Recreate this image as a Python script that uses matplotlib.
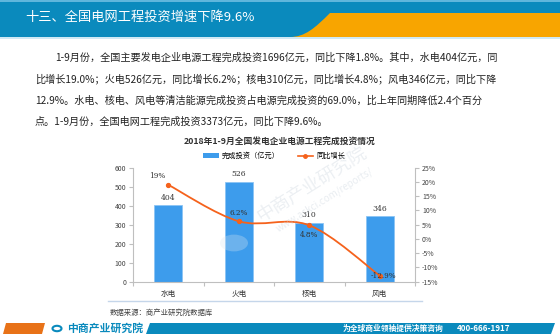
import numpy as np
import matplotlib.pyplot as plt
from matplotlib.patches import Polygon, Rectangle, Circle
from matplotlib.path import Path
from matplotlib.patches import PathPatch
from matplotlib.lines import Line2D

plt.rcParams['font.family'] = ['Noto Sans CJK SC', 'DejaVu Sans']

categorias = ['水电', '火电', '核电', '风电']
inversion = [404, 526, 310, 346]
crecimiento = [19.0, 6.2, 4.8, -12.9]
etiquetas_crec = ['19%', '6.2%', '4.8%', '-12.9%']

titulo = '十三、全国电网工程投资增速下降9.6%'
parrafo = [
    '1-9月份，全国主要发电企业电源工程完成投资1696亿元，同比下降1.8%。其中，水电404亿元，同',
    '比增长19.0%；火电526亿元，同比增长6.2%；核电310亿元，同比增长4.8%；风电346亿元，同比下降',
    '12.9%。水电、核电、风电等清洁能源完成投资占电源完成投资的69.0%，比上年同期降低2.4个百分',
    '点。1-9月份，全国电网工程完成投资3373亿元，同比下降9.6%。',
]
titulo_grafico = '2018年1-9月全国发电企业电源工程完成投资情况'

W, H = 560, 336
azul = '#0a8abd'
naranja = '#f8a500'
azul_barra = '#3d9cec'
naranja_linea = '#f5621c'

fig = plt.figure(figsize=(W / 100, H / 100), dpi=100)


def px(x, y):
    # pixeles (origen arriba a la izquierda) -> fraccion de figura
    return x / W, 1 - y / H


def poligono(puntos, color, **kw):
    fig.patches.append(Polygon([px(x, y) for x, y in puntos], closed=True,
                               transform=fig.transFigure, facecolor=color,
                               edgecolor='none', **kw))


# Cabecera
poligono([(0, 0), (560, 0), (560, 37), (0, 37)], azul)
poligono([(0, 0), (560, 0), (560, 1.5), (0, 1.5)], '#5fb6dc')
verts = [px(290, 37), px(305, 37), px(315, 28), px(330, 13), px(345, 13),
         px(560, 13), px(560, 37), px(290, 37)]
codes = [Path.MOVETO, Path.CURVE4, Path.CURVE4, Path.CURVE4, Path.LINETO,
         Path.LINETO, Path.LINETO, Path.CLOSEPOLY]
fig.patches.append(PathPatch(Path(verts, codes), transform=fig.transFigure,
                             facecolor=naranja, edgecolor='none'))
poligono([(0, 37), (560, 37), (560, 38.5), (0, 38.5)], '#cfe9f5')
fig.text(*px(25, 17), titulo, color='white', fontsize=9.5, va='center', ha='left')

# Texto
for i, linea in enumerate(parrafo):
    x0 = 55 if i == 0 else 35
    fig.text(*px(x0, 58 + i * 21.3), linea, fontsize=7.3, color='#222222',
             va='center', ha='left')

fig.text(*px(280, 141), titulo_grafico, fontsize=6.3, fontweight='bold',
         color='#333333', ha='center', va='center')

# Grafico
ax = fig.add_axes([133 / W, 1 - 281.7 / H, 282 / W, 114 / H])
x = np.arange(len(categorias))
ax.bar(x, inversion, width=0.4, color=azul_barra, edgecolor='#8cc4f4',
       linewidth=0.6, zorder=2)
for xi, v in zip(x, inversion):
    ax.text(xi, v + 18, str(v), ha='center', va='bottom', fontsize=5.5,
            color='#333333', family=['DejaVu Serif'])
ax.set_xlim(-0.5, 3.5)
ax.set_ylim(0, 600)
ax.set_yticks(range(0, 601, 100))
ax.set_xticks(np.arange(-0.5, 3.6, 1))
ax.set_xticklabels([])
ax.set_xticks(x, minor=True)
ax.set_xticklabels(categorias, minor=True)
ax.tick_params(axis='x', which='minor', length=0, labelsize=5.5, pad=6,
               colors='#333333')
ax.tick_params(axis='x', which='major', length=3, color='#bfbfbf')
ax.tick_params(axis='y', length=3, labelsize=5, color='#bfbfbf',
               labelcolor='#444444', pad=2)
for s in ['top', 'right']:
    ax.spines[s].set_visible(False)
for s in ['left', 'bottom']:
    ax.spines[s].set_color('#bfbfbf')
    ax.spines[s].set_linewidth(0.8)

ax2 = ax.twinx()
ax2.set_ylim(-15, 25)
ax2.set_yticks(range(-15, 26, 5))
ax2.set_yticklabels([f'{t}%' for t in range(-15, 26, 5)])
ax2.tick_params(axis='y', length=3, labelsize=5, color='#bfbfbf',
                labelcolor='#444444', pad=2)
for s in ['top', 'left', 'bottom']:
    ax2.spines[s].set_visible(False)
ax2.spines['right'].set_color('#bfbfbf')
ax2.spines['right'].set_linewidth(0.8)

# linea suavizada (bezier entre los puntos)
pts = np.column_stack([x, crecimiento]).astype(float)
verts = [tuple(pts[0])]
codes = [Path.MOVETO]
for i in range(len(pts) - 1):
    p0 = pts[max(i - 1, 0)]
    p1 = pts[i]
    p2 = pts[i + 1]
    p3 = pts[min(i + 2, len(pts) - 1)]
    c1 = p1 + (p2 - p0) / 6
    c2 = p2 - (p3 - p1) / 6
    verts += [tuple(c1), tuple(c2), tuple(p2)]
    codes += [Path.CURVE4] * 3
ax2.add_patch(PathPatch(Path(verts, codes), facecolor='none',
                        edgecolor=naranja_linea, linewidth=1.3, zorder=3))
ax2.plot(x, crecimiento, 'o', color=naranja_linea, markersize=2.8, zorder=4)
desplaz = [(-8, 6), (0, 6), (0, -7), (3, 0)]
for xi, v, t, (dx, dy) in zip(x, crecimiento, etiquetas_crec, desplaz):
    ax2.annotate(t, (xi, v), xytext=(dx, dy), textcoords='offset points',
                 ha='center', va='center', fontsize=5.2, color='#333333',
                 family=['DejaVu Serif'], zorder=5)

# marca de agua
fig.text(*px(312, 185), '中商产业研究院', fontsize=13, color='#c8d2dc',
         alpha=0.35, rotation=32, ha='center', va='center')
fig.text(*px(325, 200), 'www.askci.com/reports/', fontsize=7, color='#c8d2dc',
         alpha=0.4, rotation=32, ha='center', va='center')
fig.patches.append(Circle(px(234, 243), 14 / W, transform=fig.transFigure,
                          facecolor='#dbe6f0', edgecolor='none', alpha=0.3))

# leyenda
ax.legend(handles=[Rectangle((0, 0), 1, 1, facecolor=azul_barra),
                   Line2D([], [], color=naranja_linea, marker='o', markersize=2.5,
                          linewidth=1.2)],
          labels=['完成投资（亿元）', '同比增长'], loc='center',
          bbox_to_anchor=(0.5, 1.1), ncol=2, frameon=False, fontsize=5.2,
          handlelength=2.2, handleheight=0.6, columnspacing=2.5,
          handletextpad=0.4)

# pie del grafico
fig.add_artist(Line2D([108 / W, 422 / W], [1 - 301 / H, 1 - 301 / H],
                      color='#c5d6ea', linewidth=1.0, transform=fig.transFigure))
fig.text(*px(110, 313), '数据来源：商产业研究院数据库', fontsize=5.3,
         color='#444444', va='center', ha='left')

# pie de pagina
poligono([(6, 323), (45, 323), (42, 334), (3, 334)], '#e87218')
fig.patches.append(Circle(px(57, 328.5), 4.5 / W, transform=fig.transFigure,
                          facecolor='none', edgecolor=azul, linewidth=1.5))
fig.text(*px(67, 328.5), '中商产业研究院', fontsize=7.8, color=azul,
         fontweight='bold', va='center', ha='left')
poligono([(150, 323), (555, 323), (551, 334), (146, 334)], azul)
fig.text(*px(343, 328.5), '为全球商业领袖提供决策咨询', fontsize=5.6, color='white',
         fontweight='bold', va='center', ha='left')
fig.text(*px(457, 328.5), '400-666-1917', fontsize=5.8, color='white',
         fontweight='bold', va='center', ha='left')

fig.savefig('out.png', dpi=100, facecolor='white')
